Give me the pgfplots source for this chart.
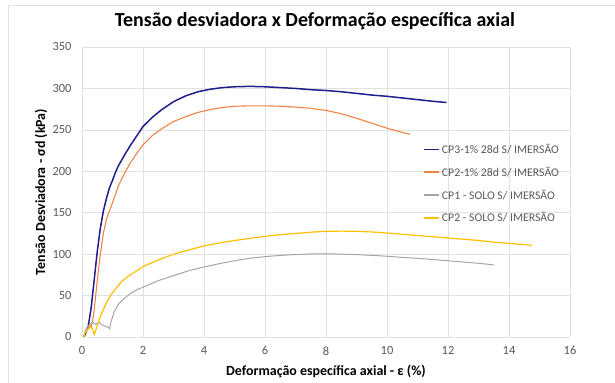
\documentclass[border=0pt]{standalone}
\usepackage{pgfplots}
\pgfplotsset{compat=1.18}
\usepackage{fontspec}
\setmainfont{Carlito}
\definecolor{cpblue}{RGB}{30,30,140}
\definecolor{cporange}{RGB}{240,130,70}
\definecolor{cpgray}{RGB}{165,165,165}
\definecolor{cpyellow}{RGB}{255,192,0}
\definecolor{txtgray}{RGB}{89,89,89}
\definecolor{gridc}{RGB}{225,225,225}
\begin{document}
\begin{tikzpicture}
\useasboundingbox (-82bp,-46bp) rectangle (533bp,337bp);
\draw[gridc, line width=0.9bp] (-74bp,-46bp) -- (-74bp,332bp) -- (533bp,332bp);
\begin{axis}[
 scale only axis, width=488bp, height=290bp,
 xmin=0, xmax=16, ymin=0, ymax=350,
 xtick={0,2,...,16}, ytick={0,50,...,350},
 grid=major, major grid style={gridc, line width=0.6bp},
 axis line style={draw=none}, tick style={draw=none},
 ticklabel style={font=\fontsize{12.5}{14}\selectfont, text=txtgray},
 /pgf/number format/assume math mode=true,
 xticklabel style={yshift=-6bp},
 yticklabel style={xshift=-7bp},
 title={Tensão desviadora x Deformação específica axial},
 title style={at={(axis description cs:0.5,1)}, anchor=base, xshift=-11bp, yshift=15bp, font=\bfseries\fontsize{20}{24}\selectfont},
 xlabel={Deformação específica axial - ε (\%)},
 ylabel={Tensão Desviadora - σd (kPa)},
 xlabel style={at={(axis description cs:0.5,-0.12)}, anchor=center, font=\bfseries\fontsize{14}{16}\selectfont},
 ylabel style={at={(axis description cs:-0.084,0.5)}, anchor=center, font=\bfseries\fontsize{14}{16}\selectfont},
 legend style={at={(axis description cs:0.693,0.68)}, anchor=north west, draw=none, fill=none, font=\fontsize{11.8}{13}\selectfont, row sep=8bp},
 legend cell align=left,
 legend image code/.code={\draw[#1, line width=1.6bp] (0bp,0bp) -- (15bp,0bp);},
]
\addplot[cpblue, line width=1.5bp] coordinates {
(0.05,0) (0.1,3) (0.2,12) (0.3,35) (0.4,69) (0.5,103) (0.6,131) (0.7,152) (0.8,167) (0.9,180) (1.0,189) (1.1,199) (1.2,207) (1.4,220) (1.6,232) (1.8,243) (2.0,254) (2.3,265) (2.6,274) (3.0,284) (3.4,291) (3.8,296) (4.2,299) (4.6,301) (5.0,302) (5.5,302.5) (6.0,302) (6.5,301) (7.0,300) (7.5,298.5) (8.0,297.5) (8.5,296) (9.0,294) (9.5,292) (10.0,290.5) (10.5,288.5) (11.0,286.5) (11.5,284.5) (11.95,283)
};
\addlegendentry{\textcolor{txtgray}{CP3-1\% 28d S/ IMERSÃO}}
\addplot[cporange, line width=1.1bp] coordinates {
(0.05,0) (0.1,5) (0.2,10) (0.25,14) (0.3,12) (0.35,20) (0.4,33) (0.5,68) (0.6,100) (0.7,125) (0.8,142) (0.9,152) (1.0,162) (1.2,183) (1.4,198) (1.6,211) (1.8,222) (2.0,232) (2.3,243) (2.6,251) (3.0,260) (3.4,266) (3.8,271) (4.2,274.5) (4.6,277) (5.0,278.5) (5.5,279) (6.0,279) (6.5,278.5) (7.0,277.5) (7.5,276) (8.0,273.5) (8.5,269.5) (9.0,264) (9.5,258) (10.0,252) (10.4,248) (10.75,244.5)
};
\addlegendentry{\textcolor{txtgray}{CP2-1\% 28d S/ IMERSÃO}}
\addplot[cpgray, line width=1bp] coordinates {
(0.05,0) (0.1,6) (0.15,11) (0.25,15) (0.35,18) (0.45,15) (0.55,18) (0.65,15) (0.75,13) (0.85,12) (0.9,10) (0.95,18) (1.05,30) (1.2,40) (1.4,47) (1.6,53) (1.8,57) (2.0,60) (2.5,68) (3.0,74) (3.5,80) (4.0,84.5) (4.5,88.5) (5.0,92) (5.5,95) (6.0,97) (6.5,98.5) (7.0,99.5) (7.5,100.2) (8.0,100.5) (8.5,100) (9.0,99.5) (9.5,98.5) (10.0,97.5) (10.5,96) (11.0,95) (11.5,93.5) (12.0,92) (12.5,90.5) (13.0,89) (13.5,87)
};
\addlegendentry{\textcolor{txtgray}{CP1 - SOLO S/ IMERSÃO}}
\addplot[cpyellow, line width=1.2bp] coordinates {
(0.05,0) (0.1,5) (0.2,10) (0.3,12) (0.35,9) (0.4,3) (0.45,8) (0.5,14) (0.6,25) (0.7,33) (0.8,41) (0.95,51) (1.1,58) (1.3,67) (1.5,73) (1.8,80) (2.0,85) (2.5,93) (3.0,100) (3.5,105) (4.0,110) (4.5,113.5) (5.0,116.5) (5.5,119) (6.0,121.5) (6.5,123.5) (7.0,125) (7.5,126.5) (8.0,127.5) (8.5,127.8) (9.0,127.5) (9.5,126.8) (10.0,125.5) (10.5,124) (11.0,122.5) (11.5,121) (12.0,119.5) (12.5,118) (13.0,116.5) (13.5,114.5) (14.0,113) (14.5,111.5) (14.75,110.5)
};
\addlegendentry{\textcolor{txtgray}{CP2 - SOLO S/ IMERSÃO}}
\end{axis}
\end{tikzpicture}
\end{document}
